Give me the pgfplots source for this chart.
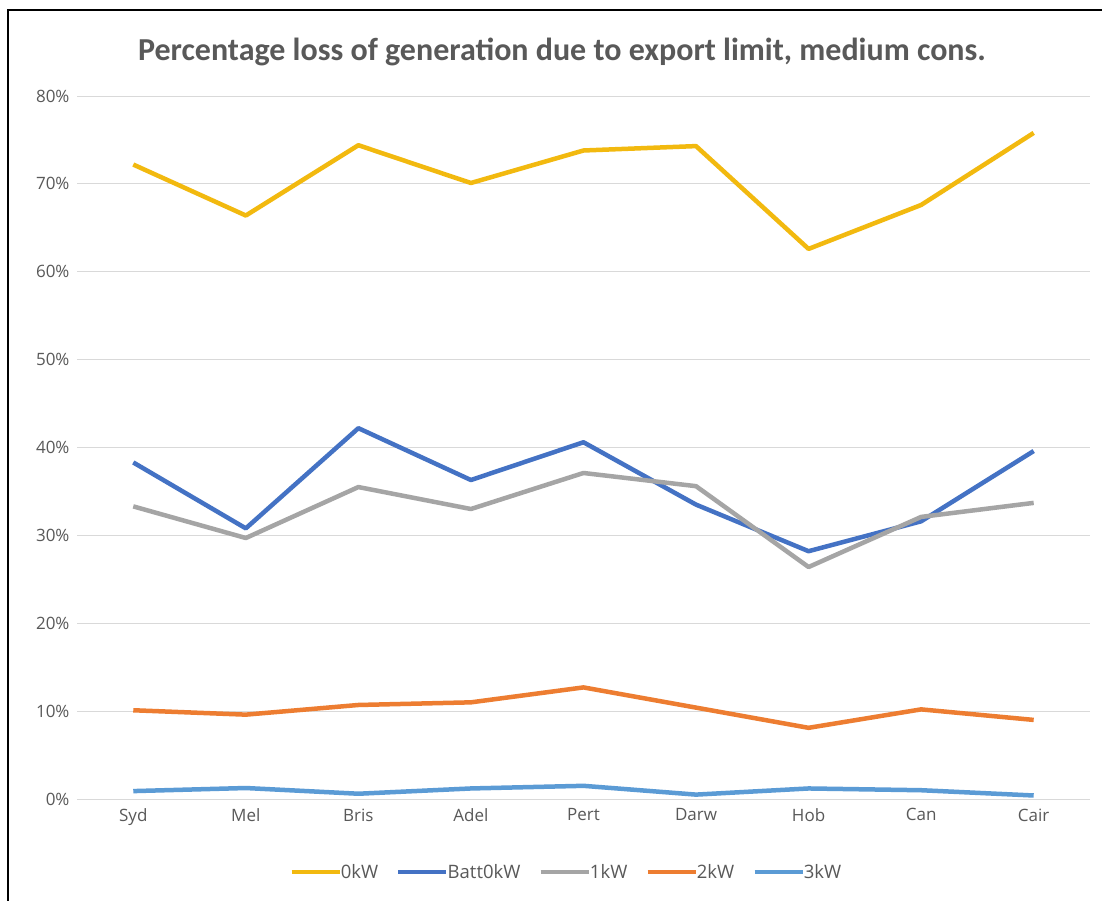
\documentclass[border=0pt]{standalone}
\usepackage{pgfplots}
\pgfplotsset{compat=1.18}
\usepackage{fontspec}
\setmainfont{Carlito}
\newfontfamily\tickfont{Open Sans}
\definecolor{cY}{HTML}{F2B90F}
\definecolor{cB}{HTML}{4472C4}
\definecolor{cG}{HTML}{A5A5A5}
\definecolor{cO}{HTML}{ED7D31}
\definecolor{cL}{HTML}{5B9BD5}
\definecolor{txt}{HTML}{595959}
\definecolor{grd}{HTML}{D9D9D9}
\begin{document}
\begin{tikzpicture}[x=1pt,y=1pt]
\useasboundingbox[fill=white] (0,0) rectangle (1102,-901);
\draw[line width=2.5pt,black] (8,-901) -- (8,-10) -- (1102,-10);
\node[text=txt,font=\fontsize{32}{38}\selectfont\bfseries] at (562,-52) {Percentage loss of generation due to export limit, medium cons.};
\begin{axis}[
  at={(77pt,-799pt)}, anchor=south west,
  scale only axis, width=1013pt, height=703pt,
  xmin=-0.5, xmax=8.5, ymin=0, ymax=80,
  xtick={0,...,8},
  xticklabels={Syd,Mel,Bris,Adel,Pert,Darw,Hob,Can,Cair},
  ytick={0,10,...,80},
  yticklabel={\pgfmathprintnumber{\tick}\%},
  /pgf/number format/assume math mode=true,
  ticklabel style={font=\tickfont\fontsize{17}{20}\selectfont, text=txt},
  yticklabel style={xshift=-4pt},
  xticklabel style={yshift=-6pt},
  major tick length=0pt,
  axis line style={draw=none},
  axis x line*=bottom,
  ymajorgrids, grid style={grd, line width=1pt},
  legend style={at={(0.483,-0.087)}, anchor=north, draw=none, legend columns=-1,
     font=\tickfont\fontsize{18.5}{22}\selectfont, text=txt,
     /tikz/every odd column/.append style={column sep=-3pt},
     /tikz/every even column/.append style={column sep=16pt}},
  legend image code/.code={\draw[#1, line width=4.5pt] (0pt,0pt) -- (48pt,0pt);},
  every axis plot/.append style={line width=4.5pt, line join=round},
]
\addplot[cY] coordinates {(0,72.2) (1,66.4) (2,74.4) (3,70.1) (4,73.8) (5,74.3) (6,62.6) (7,67.6) (8,75.8)};
\addplot[cB] coordinates {(0,38.3) (1,30.8) (2,42.2) (3,36.3) (4,40.6) (5,33.5) (6,28.2) (7,31.6) (8,39.6)};
\addplot[cG] coordinates {(0,33.3) (1,29.7) (2,35.5) (3,33.0) (4,37.1) (5,35.6) (6,26.4) (7,32.1) (8,33.7)};
\addplot[cO] coordinates {(0,10.1) (1,9.6) (2,10.7) (3,11.0) (4,12.7) (5,10.4) (6,8.1) (7,10.2) (8,9.0)};
\addplot[cL] coordinates {(0,0.9) (1,1.25) (2,0.6) (3,1.2) (4,1.5) (5,0.5) (6,1.2) (7,1.0) (8,0.4)};
\legend{0kW,Batt0kW,1kW,2kW,3kW}
\end{axis}
\end{tikzpicture}
\end{document}
